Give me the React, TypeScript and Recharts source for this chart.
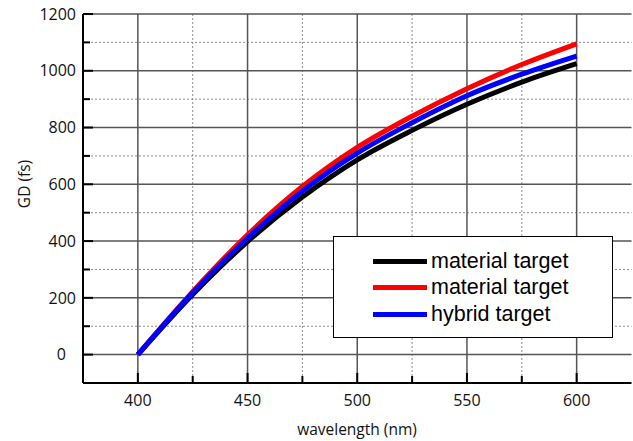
import { LineChart, Line, XAxis, YAxis, CartesianGrid } from "recharts";

// Group delay curves
const wavelengths = [400, 425, 450, 475, 500, 525, 550, 575, 600];
const materialBlack = [0, 212, 398, 555, 686, 790, 882, 960, 1025];
const materialRed = [0, 222, 422, 592, 730, 840, 937, 1022, 1095];
const hybridBlue = [0, 218, 410, 576, 710, 817, 912, 988, 1052];

const xTicks = [400, 425, 450, 475, 500, 525, 550, 575, 600];
const xMajor = [400, 450, 500, 550, 600];
const xMinor = [425, 475, 525, 575];
const yTicks = [0, 100, 200, 300, 400, 500, 600, 700, 800, 900, 1000, 1100, 1200];
const yMajor = [0, 200, 400, 600, 800, 1000, 1200];
const yMinor = [100, 300, 500, 700, 900, 1100];

const series = [
  { key: "black", name: "material target", color: "#000000" },
  { key: "red", name: "material target", color: "#ff0000" },
  { key: "blue", name: "hybrid target", color: "#0000ff" },
];

const data = wavelengths.map((wl, i) => ({
  wl,
  black: materialBlack[i],
  red: materialRed[i],
  blue: hybridBlue[i],
}));

const TICK_FONT = "'Open Sans', sans-serif";

function BottomTick({ x, y, payload }: any) {
  const major = payload.value % 50 === 0;
  return (
    <g>
      <line x1={x} x2={x} y1={y} y2={y - (major ? 10 : 7)} stroke="#000" strokeWidth={2} />
      {major && (
        <text x={x} y={y + 23} textAnchor="middle" fontFamily={TICK_FONT} fontSize={16} fill="#111">
          {payload.value}
        </text>
      )}
    </g>
  );
}

function TopTick({ x, y, payload }: any) {
  const major = payload.value % 50 === 0;
  return <line x1={x} x2={x} y1={y} y2={y + (major ? 10 : 7)} stroke="#000" strokeWidth={2} />;
}

function LeftTick({ x, y, payload }: any) {
  const major = payload.value % 200 === 0;
  return (
    <g>
      <line x1={x} x2={x + (major ? 10 : 7)} y1={y} y2={y} stroke="#000" strokeWidth={2} />
      {major && (
        <text
          x={payload.value === 0 ? x - 17 : x - 7}
          y={y + 5.7}
          textAnchor="end"
          fontFamily={TICK_FONT}
          fontSize={16}
          fill="#111"
        >
          {payload.value}
        </text>
      )}
    </g>
  );
}

function RightTick({ x, y, payload }: any) {
  const major = payload.value % 200 === 0;
  return <line x1={x} x2={x - (major ? 10 : 7)} y1={y} y2={y} stroke="#000" strokeWidth={2} />;
}

export default function App() {
  return (
    <div style={{ position: "absolute", left: 0, top: 0, width: 633, height: 441, background: "#fff" }}>
      <LineChart width={633} height={441} data={data} margin={{ top: 14, right: 1.5, bottom: 0, left: 0 }}>
        <CartesianGrid
          horizontalValues={yMinor}
          verticalValues={xMinor}
          stroke="#8c8c8c"
          strokeDasharray="2 2"
          strokeWidth={1}
        />
        <CartesianGrid horizontalValues={yMajor} verticalValues={xMajor} stroke="#555" strokeWidth={1.5} />
        <XAxis
          dataKey="wl"
          type="number"
          domain={[375, 625]}
          allowDataOverflow
          ticks={xTicks}
          interval={0}
          tick={<BottomTick />}
          tickLine={false}
          tickSize={0}
          tickMargin={0}
          height={58}
          axisLine={{ stroke: "#000", strokeWidth: 2 }}
          label={() => (
            <text x={357} y={435} textAnchor="middle" fontFamily={TICK_FONT} fontSize={15.5} fill="#111">
              wavelength (nm)
            </text>
          )}
        />
        <XAxis
          xAxisId="top"
          orientation="top"
          dataKey="wl"
          type="number"
          domain={[375, 625]}
          allowDataOverflow
          ticks={xTicks}
          interval={0}
          tick={<TopTick />}
          tickLine={false}
          tickSize={0}
          tickMargin={0}
          height={0}
          axisLine={{ stroke: "#000", strokeWidth: 2 }}
        />
        <YAxis
          type="number"
          domain={[-100, 1200]}
          allowDataOverflow
          ticks={yTicks}
          interval={0}
          tick={<LeftTick />}
          tickLine={false}
          tickSize={0}
          tickMargin={0}
          width={83}
          axisLine={{ stroke: "#000", strokeWidth: 2 }}
          label={() => (
            <text
              x={0}
              y={0}
              transform="translate(30, 184) rotate(-90)"
              textAnchor="middle"
              fontFamily={TICK_FONT}
              fontSize={15.5}
              fill="#111"
            >
              GD (fs)
            </text>
          )}
        />
        <YAxis
          yAxisId="right"
          orientation="right"
          type="number"
          domain={[-100, 1200]}
          allowDataOverflow
          ticks={yTicks}
          interval={0}
          tick={<RightTick />}
          tickLine={false}
          tickSize={0}
          tickMargin={0}
          width={0}
          axisLine={{ stroke: "#000", strokeWidth: 2 }}
        />
        {series.map((s) => (
          <Line
            key={s.key}
            type="monotone"
            dataKey={s.key}
            name={s.name}
            stroke={s.color}
            strokeWidth={5}
            dot={false}
            isAnimationActive={false}
          />
        ))}
      </LineChart>

      {/* Legend box laid over the lower right of the plot */}
      <div
        style={{
          position: "absolute",
          left: 333,
          top: 236,
          width: 278,
          height: 100,
          background: "#fff",
          border: "1.5px solid #000",
          fontFamily: "'Liberation Sans', Arial, sans-serif",
          fontSize: 21.5,
          color: "#000",
        }}
      >
        {series.map((s, i) => (
          <div
            key={s.key}
            style={{
              position: "absolute",
              left: 39,
              top: 11 + i * 26.5,
              height: 26,
              display: "flex",
              alignItems: "center",
              whiteSpace: "nowrap",
            }}
          >
            <span style={{ display: "inline-block", width: 54, height: 5, background: s.color, marginRight: 4 }} />
            <span>{s.name}</span>
          </div>
        ))}
      </div>
    </div>
  );
}
